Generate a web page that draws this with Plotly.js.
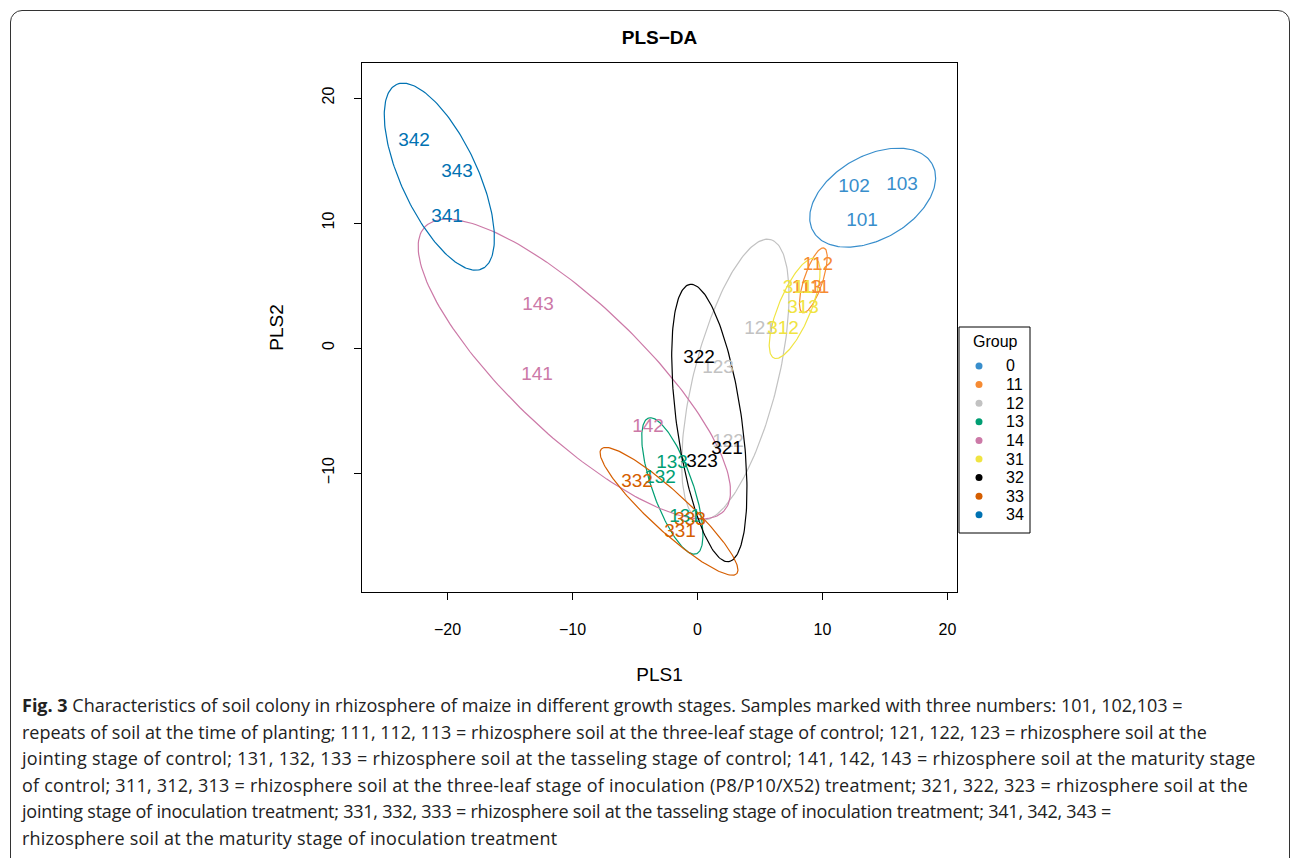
<!DOCTYPE html>
<html>
<head>
<meta charset="utf-8">
<script src="https://cdn.plot.ly/plotly-3.0.1.min.js"></script>
<style>
  html, body { margin:0; padding:0; width:1292px; height:858px; overflow:hidden; background:#fff; }
  #frame { position:absolute; left:10px; top:10px; width:1280px; height:860px; border:1.5px solid #333; border-radius:12px; box-sizing:border-box; }
  #plot { position:absolute; left:0; top:0; width:1292px; height:858px; }
  #caption { position:absolute; left:22px; top:692px; font-family:"Open Sans", sans-serif; font-size:18px; letter-spacing:0px; line-height:26.6px; color:#222; white-space:nowrap; }
</style>
</head>
<body>
<div id="frame"></div>
<div id="plot"></div>
<div id="caption"><span><b>Fig. 3</b> Characteristics of soil colony in rhizosphere of maize in different growth stages. Samples marked with three numbers: 101, 102,103 =</span><br><span>repeats of soil at the time of planting; 111, 112, 113 = rhizosphere soil at the three-leaf stage of control; 121, 122, 123 = rhizosphere soil at the</span><br><span style="letter-spacing:0.28px">jointing stage of control; 131, 132, 133 = rhizosphere soil at the tasseling stage of control; 141, 142, 143 = rhizosphere soil at the maturity stage</span><br><span style="letter-spacing:0.23px">of control; 311, 312, 313 = rhizosphere soil at the three-leaf stage of inoculation (P8/P10/X52) treatment; 321, 322, 323 = rhizosphere soil at the</span><br><span style="letter-spacing:-0.23px">jointing stage of inoculation treatment; 331, 332, 333 = rhizosphere soil at the tasseling stage of inoculation treatment; 341, 342, 343 =</span><br><span style="letter-spacing:0.22px">rhizosphere soil at the maturity stage of inoculation treatment</span></div>
<script>
// ---- data ----
const groups = ['0','11','12','13','14','31','32','33','34'];
const groupColors = ['#388ECC','#F68B33','#C2C2C2','#009E73','#CC79A7','#F0E442','#000000','#D55E00','#0072B2'];
const sampleLabels = ['101','102','103','111','112','113','121','122','123','131','132','133','141','142','143','311','312','313','321','322','323','331','332','333','341','342','343'];
const sampleGroup  = ['0','0','0','11','11','11','12','12','12','13','13','13','14','14','14','31','31','31','32','32','32','33','33','33','34','34','34'];
const pls1 = [13.16,12.52,16.36, 9.4,9.64,8.76, 5.0,2.44,1.64, -1.0,-3.0,-2.04, -12.84,-3.96,-12.76, 8.04,6.84,8.44, 2.36,0.12,0.36, -1.4,-4.84,-0.6, -20.04,-22.68,-19.24];
const pls2 = [10.16,12.88,13.04, 4.8,6.64,4.8, 1.52,-7.52,-1.6, -13.52,-10.4,-9.2, -2.16,-6.32,3.44, 4.8,1.52,3.2, -8.08,-0.8,-9.12, -14.72,-10.72,-13.76, 10.48,16.56,14.08];
const xTicks = [-20,-10,0,10,20];
const yTicks = [-10,0,10,20];
const ellipseLevel = 0.95;
const legendTitle = 'Group';

// ---- confidence ellipse from group covariance ----
function confEllipse(xs, ys, level, n) {
  const m = xs.length;
  const mx = xs.reduce((a,b)=>a+b,0)/m, my = ys.reduce((a,b)=>a+b,0)/m;
  let sxx=0, syy=0, sxy=0;
  for (let i=0;i<m;i++){ const dx=xs[i]-mx, dy=ys[i]-my; sxx+=dx*dx; syy+=dy*dy; sxy+=dx*dy; }
  sxx/=(m-1); syy/=(m-1); sxy/=(m-1);
  const tr=sxx+syy, det=sxx*syy-sxy*sxy;
  const disc=Math.sqrt(Math.max(tr*tr/4-det,0));
  const l1=tr/2+disc, l2=Math.max(tr/2-disc,0);
  let v1x, v1y;
  if (Math.abs(sxy)>1e-12){ v1x=sxy; v1y=l1-sxx; } else if (sxx>=syy){ v1x=1; v1y=0; } else { v1x=0; v1y=1; }
  const nn=Math.hypot(v1x,v1y); v1x/=nn; v1y/=nn;
  const v2x=-v1y, v2y=v1x;
  const t=Math.sqrt(-2*Math.log(1-level));
  const ex=[], ey=[];
  for (let k=0;k<=n;k++){
    const th=2*Math.PI*k/n, c=Math.cos(th), s=Math.sin(th);
    ex.push(mx + t*(Math.sqrt(l1)*c*v1x + Math.sqrt(l2)*s*v2x));
    ey.push(my + t*(Math.sqrt(l1)*c*v1y + Math.sqrt(l2)*s*v2y));
  }
  return {ex, ey};
}

const font = 'Liberation Sans, Arial, sans-serif';
const traces = [];
groups.forEach((g, gi) => {
  const idx = sampleGroup.map((v,i)=>v===g?i:-1).filter(i=>i>=0);
  const xs = idx.map(i=>pls1[i]), ys = idx.map(i=>pls2[i]);
  const e = confEllipse(xs, ys, ellipseLevel, 200);
  traces.push({x:e.ex, y:e.ey, mode:'lines', type:'scatter', line:{color:groupColors[gi], width:1.2}, showlegend:false, hoverinfo:'skip'});
});
groups.forEach((g, gi) => {
  const idx = sampleGroup.map((v,i)=>v===g?i:-1).filter(i=>i>=0);
  traces.push({x:idx.map(i=>pls1[i]), y:idx.map(i=>pls2[i]), text:idx.map(i=>sampleLabels[i]),
    mode:'text', type:'scatter', textposition:'middle center', name:g,
    textfont:{family:font, size:19, color:groupColors[gi]}, showlegend:false});
});

// ---- legend box drawn in paper coordinates (R style) ----
const plotL=362, plotR=957, plotT=63, plotB=592;
const px2x = p => (p-plotL)/(plotR-plotL);
const py2y = p => (plotB-p)/(plotB-plotT);
const shapes = [{type:'rect', xref:'paper', yref:'paper', x0:px2x(959), x1:px2x(1030), y0:py2y(533), y1:py2y(327),
  line:{color:'#000', width:1}, fillcolor:'#fff', layer:'above'}];
const annotations = [{text:legendTitle, xref:'paper', yref:'paper', x:px2x(995), y:py2y(341), xanchor:'center', yanchor:'middle',
  showarrow:false, font:{family:font, size:16, color:'#000'}}];
const rowTop=366, rowStep=18.6;
groups.forEach((g, gi) => {
  const cy = rowTop + gi*rowStep;
  shapes.push({type:'circle', xref:'paper', yref:'paper', x0:px2x(975.5), x1:px2x(982.5), y0:py2y(cy+3.5), y1:py2y(cy-3.5),
    line:{width:0}, fillcolor:groupColors[gi], layer:'above'});
  annotations.push({text:g, xref:'paper', yref:'paper', x:px2x(1004), y:py2y(cy), xanchor:'left', yanchor:'middle',
    showarrow:false, font:{family:font, size:16, color:'#000'}});
});

const layout = {
  width:1292, height:858,
  margin:{l:plotL, r:1292-plotR, t:plotT, b:858-plotB},
  paper_bgcolor:'rgba(0,0,0,0)', plot_bgcolor:'#fff',
  font:{family:font, color:'#000', size:14},
  title:{text:'<b>PLS\u2212DA</b>', font:{family:font, size:19, color:'#000'}, x:0.5, xref:'paper', y:1-37/858, yref:'container', yanchor:'middle'},
  xaxis:{range:[-26.84,20.76], tickvals:xTicks, ticks:'outside', ticklen:7, tickcolor:'#000', tickwidth:1,
    showline:true, linecolor:'#000', linewidth:1, mirror:true, showgrid:false, zeroline:false,
    tickfont:{size:16}, ticklabelstandoff:16,
    title:{text:'PLS1', font:{size:19}, standoff:30}},
  yaxis:{range:[-19.52,22.8], tickvals:yTicks, ticks:'outside', ticklen:7, tickcolor:'#000', tickwidth:1,
    showline:true, linecolor:'#000', linewidth:1, mirror:true, showgrid:false, zeroline:false,
    tickangle:-90, tickfont:{size:16}, ticklabelstandoff:14,
    title:{text:'PLS2', font:{size:19}, standoff:30}},
  showlegend:false,
  shapes, annotations
};
Plotly.newPlot('plot', traces, layout, {displayModeBar:false, staticPlot:true});
</script>
</body>
</html>
